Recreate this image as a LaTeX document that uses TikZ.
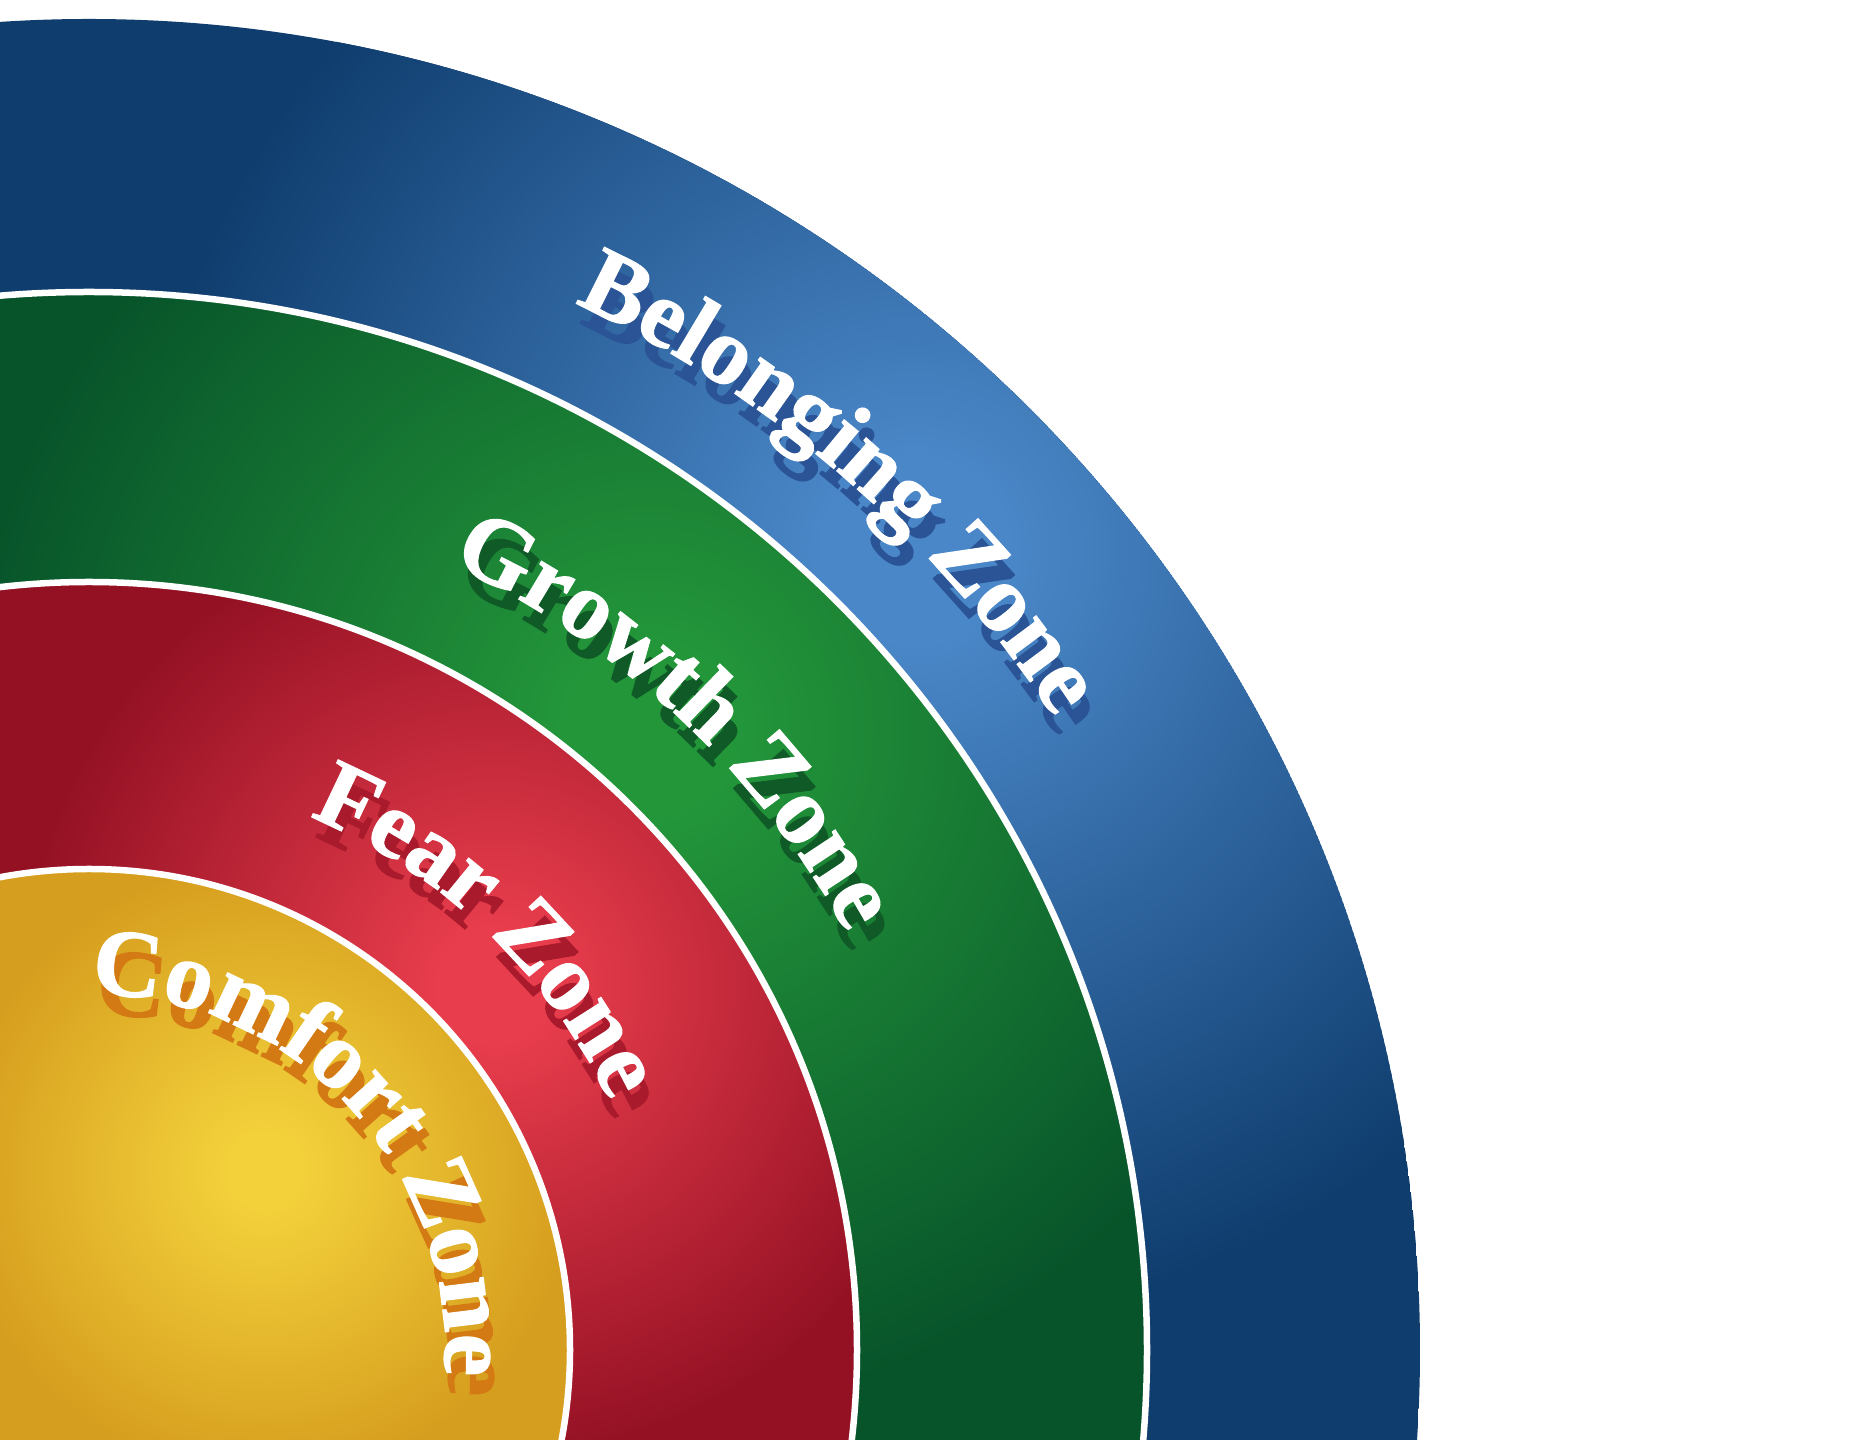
\documentclass[tikz,border=0pt]{standalone}
\usepackage{fontspec}
\newfontfamily\zonefam{Liberation Serif}[FakeBold=1.3]
\usetikzlibrary{decorations.text}
\definecolor{bluedark}{HTML}{0F3D6E}
\definecolor{bluelight}{HTML}{4A87C8}
\definecolor{greendark}{HTML}{07532A}
\definecolor{greenlight}{HTML}{23963A}
\definecolor{reddark}{HTML}{941124}
\definecolor{redlight}{HTML}{E83D4C}
\definecolor{yellowdark}{HTML}{D69E1E}
\definecolor{yellowlight}{HTML}{F3D13B}
\definecolor{blueshadow}{HTML}{2B5496}
\definecolor{greenshadow}{HTML}{0F5A26}
\definecolor{redshadow}{HTML}{A81A2C}
\definecolor{yellowshadow}{HTML}{D47A14}
\pgfdeclareradialshading{blueglow}{\pgfpointorigin}{color(0bp)=(bluelight); color(3bp)=(bluelight); color(25bp)=(bluedark); color(50bp)=(bluedark)}
\pgfdeclareradialshading{greenglow}{\pgfpointorigin}{color(0bp)=(greenlight); color(3bp)=(greenlight); color(25bp)=(greendark); color(50bp)=(greendark)}
\pgfdeclareradialshading{redglow}{\pgfpointorigin}{color(0bp)=(redlight); color(3bp)=(redlight); color(25bp)=(reddark); color(50bp)=(reddark)}
\pgfdeclareradialshading{yellowglow}{\pgfpointorigin}{color(0bp)=(yellowlight); color(3bp)=(yellowlight); color(25bp)=(yellowdark); color(50bp)=(yellowdark)}
\newcommand\zonestyle{\zonefam\bfseries\fontsize{96}{104}\selectfont}
% #1 text colour, #2 shadow colour, #3 radius, #4 start angle, #5 end angle, #6 text
\newcommand\zonelabel[6]{%
  \path[shift={(93,70)}, decorate, decoration={text along path, text={|\zonestyle|#6}, text align=center, text color=#2}]
    (#4:#3) arc[start angle=#4, end angle=#5, radius=#3];
  \path[shift={(89,90)}, decorate, decoration={text along path, text={|\zonestyle|#6}, text align=center, text color=#1}]
    (#4:#3) arc[start angle=#4, end angle=#5, radius=#3];
}
\tikzset{sep/.style={white, line width=6.5pt}}
\begin{document}
\begin{tikzpicture}[x=1pt,y=1pt]
\useasboundingbox (0,0) rectangle (1863,1440);
\fill[white] (0,0) rectangle (1863,1440);
\clip (0,0) rectangle (1863,1440);
\coordinate (c) at (89,90);
% Belonging zone disc
\begin{scope}
  \clip (c) circle (1331);
  \fill[bluedark] (c) circle (1331);
  \shade[shading=blueglow] (915,890) circle (770);
\end{scope}
% Growth zone disc
\begin{scope}
  \clip (c) circle (1058);
  \fill[greendark] (c) circle (1058);
  \shade[shading=greenglow] (650,710) circle (690);
\end{scope}
% Fear zone disc
\begin{scope}
  \clip (c) circle (768);
  \fill[reddark] (c) circle (768);
  \shade[shading=redglow] (495,455) circle (470);
\end{scope}
% Comfort zone disc
\begin{scope}
  \clip (c) circle (481);
  \fill[yellowdark] (c) circle (481);
  \shade[shading=yellowglow] (265,270) circle (310);
\end{scope}
\draw[sep] (c) circle (1058);
\draw[sep] (c) circle (768);
\draw[sep] (c) circle (481);
\zonelabel{white}{blueshadow}{1154}{89.15}{9.15}{Belonging Zone}
\zonelabel{white}{greenshadow}{865}{87.05}{7.05}{Growth Zone}
\zonelabel{white}{redshadow}{577}{91.5}{1.5}{Fear Zone}
\zonelabel{white}{yellowshadow}{356}{112.8}{-27.2}{Comfort Zone}
\end{tikzpicture}
\end{document}
